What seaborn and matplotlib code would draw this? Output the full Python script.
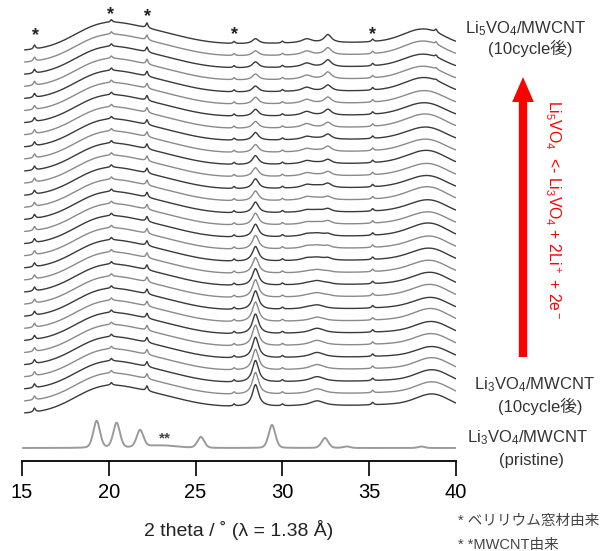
import numpy as np
import pandas as pd
import matplotlib
matplotlib.use("Agg")
import matplotlib.pyplot as plt
import seaborn as sns

# ---------------- data ----------------
n_traces = 31                 # stacked in-situ patterns, bottom -> top
start_deg, end_deg = 15.15, 40.0
step_offset = 12.1            # vertical offset between traces
bottom_level = 48             # left-end level of the lowest stacked trace
pristine_level = 13

# broad background humps (centre, sigma, height)
bg_centers = [19.4, 22.0, 33.0, 37.6]
bg_sigmas = [1.6, 2.2, 9.0, 1.8]
bg_heights = [17, 16, 9, 3]

# Be window peaks (*)
be_centers = [15.72, 20.15, 22.2, 27.22, 30.0, 35.2]
be_heights = [4.0, 2.5, 5.0, 2.0, 1.8, 2.5]

# varying peaks, heights bottom -> top
amp_284 = [22, 22, 22, 21, 21, 21, 20, 20, 19, 18, 17, 16, 15, 14, 13, 12,
           11, 10, 10, 9, 9, 8, 8, 7, 7, 7, 6, 6, 6, 5, 5]
amp_314 = [0, 0, 0, 0, 0, 0, 0, 0, 1, 1, 1, 1, 2, 2, 2, 2, 2, 3, 3, 3, 3, 3,
           3, 4, 4, 4, 4, 4, 4, 4, 4]
amp_320 = [5, 5, 5, 5, 5, 5, 5, 4, 4, 4, 4, 3, 3, 3, 3, 2, 2, 2, 2, 1, 1, 1,
           1, 0, 0, 0, 0, 0, 0, 0, 0]
amp_326 = [0, 0, 0, 0, 0, 0, 0, 0, 0, 1, 1, 1, 2, 2, 2, 3, 3, 3, 4, 4, 4, 5,
           5, 5, 6, 6, 6, 7, 7, 7, 8]
amp_380 = [0, 0, 0, 0, 0, 1, 1, 2, 2, 3, 3, 4, 4, 4, 5, 5, 5, 6, 6, 6, 7, 7,
           7, 8, 8, 8, 9, 9, 9, 10, 10]
amp_387 = [11, 11, 11, 11, 10, 10, 10, 10, 9, 9, 9, 8, 8, 8, 8, 7, 7, 7, 6,
           6, 6, 5, 5, 5, 4, 4, 4, 3, 3, 3, 3]
amp_388 = [0, 0, 0, 0, 0, 0, 0, 0, 0, 0, 0, 0, 0, 0, 0, 0, 0, 0, 0, 0, 0, 0,
           0, 0, 0, 0, 1, 1.5, 2, 2.5, 3]

# pristine Li3VO4/MWCNT
pr_centers = [19.3, 20.45, 21.8, 25.3, 29.4, 32.45, 33.7, 38.0]
pr_heights = [27, 25, 17, 11, 23, 10, 1.5, 1.5]
pr_hump = (23.0, 0.9, 2.5)    # ** MWCNT

x_ticks = [15, 20, 25, 30, 35, 40]
star_pos = [(15.75, 425), (20.1, 446), (22.25, 444), (27.25, 426), (35.2, 426)]

# ---------------- helpers ----------------
def lor(x, c, w, h):
    return h / (1.0 + ((x - c) / w) ** 2)

def gau(x, c, s, h):
    return h * np.exp(-((x - c) ** 2) / (2 * s * s))

x = np.arange(start_deg, end_deg + 1e-9, 0.02)

rows = []
bg = sum(gau(x, c, s, h) for c, s, h in zip(bg_centers, bg_sigmas, bg_heights))
bg = bg - bg[0]
for i in range(n_traces):
    y = bg.copy()
    for c, h in zip(be_centers, be_heights):
        y += lor(x, c, 0.07, h)
    y += lor(x, 28.45, 0.22, amp_284[i])
    y += lor(x, 31.4, 0.35, amp_314[i])
    y += lor(x, 32.0, 0.5, amp_320[i])
    y += lor(x, 32.62, 0.25, amp_326[i])
    y += gau(x, 38.0, 1.05, amp_380[i])
    y += gau(x, 38.7, 0.9, amp_387[i])
    y += lor(x, 38.85, 0.07, amp_388[i])
    y += bottom_level + step_offset * i
    rows.append(pd.DataFrame({"deg": x, "val": y, "trace": i}))
df = pd.concat(rows, ignore_index=True)

xp = np.arange(15.05, 40.0 + 1e-9, 0.02)
yp = np.full_like(xp, pristine_level, dtype=float)
for c, h in zip(pr_centers, pr_heights):
    yp += 0.75 * gau(xp, c, 0.2, h) + 0.25 * lor(xp, c, 0.2, h)
yp += gau(xp, *pr_hump)
dfp = pd.DataFrame({"deg": xp, "val": yp})

# ---------------- plotting ----------------
sns.set_style("white")
plt.rcParams["font.family"] = ["Liberation Sans", "Noto Sans CJK JP", "DejaVu Sans"]
plt.rcParams["mathtext.fontset"] = "custom"
plt.rcParams["mathtext.rm"] = "Liberation Sans"
plt.rcParams["mathtext.it"] = "Liberation Sans:italic"
plt.rcParams["mathtext.bf"] = "Liberation Sans:bold"

W, H = 608, 551
fig = plt.figure(figsize=(W / 100, H / 100), dpi=100)
ax = fig.add_axes([22 / W, (H - 461) / H, 434 / W, 461 / H])

palette = ["#3a3a3a" if i % 2 == 0 else "#8a8a8a" for i in range(n_traces)]
sns.lineplot(data=df, x="deg", y="val", hue="trace", palette=palette,
             legend=False, ax=ax, linewidth=1.0, estimator=None, sort=False)
sns.lineplot(data=dfp, x="deg", y="val", color="#9a9a9a", linewidth=1.4,
             ax=ax, estimator=None, sort=False)

ax.set_xlim(15, 40)
ax.set_ylim(0, 461)
for s in ["left", "right", "top"]:
    ax.spines[s].set_visible(False)
ax.spines["bottom"].set_color("black")
ax.spines["bottom"].set_linewidth(1.3)
ax.set_yticks([])
ax.set_xticks(x_ticks)
ax.tick_params(axis="x", direction="out", length=11, width=1.2, pad=5,
               labelsize=14.5, colors="black", bottom=True)
ax.set_xlabel("2 theta / ˚ (λ = 1.38 Å)", fontsize=14, labelpad=13, color="#222222")
ax.set_ylabel("")

for xs, ys in star_pos:
    ax.text(xs, ys, "*", ha="center", va="center", fontsize=13,
            fontweight="bold", color="#222222")
ax.text(23.25, 23, "**", ha="center", va="center", fontsize=11,
        fontweight="bold", color="#444444")

# right-hand labels (figure pixel coords)
def ftext(px, py, s, **kw):
    fig.text(px / W, 1 - py / H, s, **kw)

lab = dict(ha="center", va="center", fontsize=12, color="#333333")
ftext(526, 29, r"Li$_5$VO$_4$/MWCNT", **lab)
ftext(530, 48, "(10cycle後)", **lab)
ftext(535, 385, r"Li$_3$VO$_4$/MWCNT", **lab)
ftext(540, 406, "(10cycle後)", **lab)
ftext(528, 438, r"Li$_3$VO$_4$/MWCNT", **lab)
ftext(532, 460, "(pristine)", **lab)

ftext(553, 210, r"Li$_5$VO$_4$  <- Li$_3$VO$_4$ + 2Li$^+$ + 2e$^-$",
      ha="center", va="center", rotation=-90, fontsize=11.3, color="red")

# red arrow
ax_arrow = fig.add_axes([0, 0, 1, 1], facecolor="none")
ax_arrow.set_xlim(0, W)
ax_arrow.set_ylim(H, 0)
ax_arrow.axis("off")
ax_arrow.annotate("", xy=(523, 77), xytext=(523, 357),
                  arrowprops=dict(arrowstyle="simple,head_length=1.5,head_width=1.3,tail_width=0.5",
                                  color="red", lw=0, mutation_scale=12,
                                  shrinkA=0, shrinkB=0))

ftext(458, 521, "* ベリリウム窓材由来", ha="left", va="center", fontsize=10.5,
      color="#444444")
ftext(458, 545, "* *MWCNT由来", ha="left", va="center", fontsize=10.5,
      color="#444444")

fig.savefig("out.png", dpi=100)
